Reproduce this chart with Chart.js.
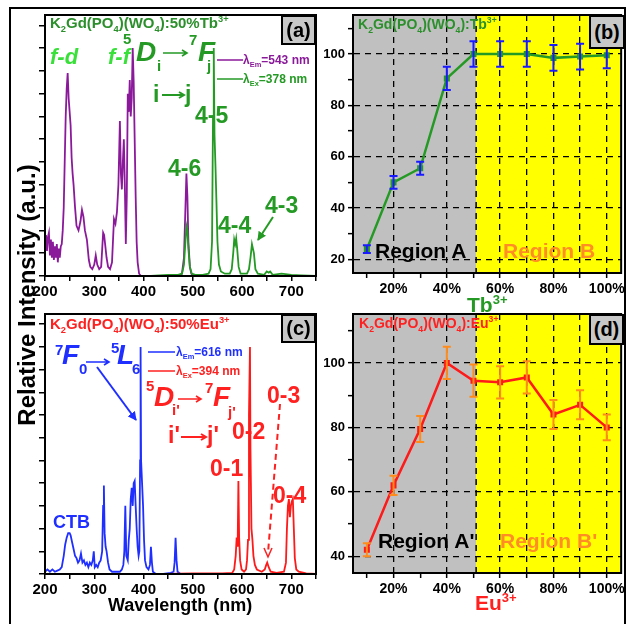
<!DOCTYPE html>
<html>
<head>
<meta charset="utf-8">
<title>K2Gd(PO4)(WO4): Tb / Eu</title>
<script src="https://cdn.jsdelivr.net/npm/chart.js@4.4.1/dist/chart.umd.min.js"></script>
<style>
  body { margin: 0; background: #fff; font-family: "Liberation Sans", Arial, sans-serif; }
  #page { position: relative; width: 628px; height: 624px; overflow: hidden; }
  .box { position: absolute; }
  .t { position: absolute; font-weight: bold; white-space: nowrap; line-height: 1; }
  .t sub, .t sup { font-size: 0.62em; line-height: 0; }
  .it { font-style: italic; }
  .tag { position: absolute; background: #c8c8c8; border: 2px solid #000; box-sizing: border-box;
         font-weight: bold; font-size: 20px; display: flex; align-items: center; justify-content: center; }
  #frame { position: absolute; left: 9px; top: 7px; width: 613px; height: 640px; border: 2px solid #000; }
</style>
</head>
<body>
<div id="page">
  <div id="frame"></div>
  <div class="box" style="left:0;top:0;width:320px;height:300px"><canvas id="chartA"></canvas></div>
  <div class="box" style="left:320px;top:0;width:308px;height:300px"><canvas id="chartB"></canvas></div>
  <div class="box" style="left:0;top:300px;width:320px;height:300px"><canvas id="chartC"></canvas></div>
  <div class="box" style="left:320px;top:300px;width:308px;height:300px"><canvas id="chartD"></canvas></div>

  <svg width="628" height="624" style="position:absolute;left:0;top:0;pointer-events:none">
    <defs>
      <marker id="ahG" markerWidth="9" markerHeight="9" refX="8" refY="4.5" orient="auto" markerUnits="userSpaceOnUse"><path d="M0,0 L9,4.5 L0,9 z" fill="#249a24"/></marker>
      <marker id="ahB" markerWidth="9" markerHeight="9" refX="8" refY="4.5" orient="auto" markerUnits="userSpaceOnUse"><path d="M0,0 L9,4.5 L0,9 z" fill="#1f2fff"/></marker>
    </defs>
    <!-- pointer arrows -->
    <line x1="273" y1="217" x2="258" y2="240" stroke="#249a24" stroke-width="2" marker-end="url(#ahG)"/>
    <line x1="97" y1="367" x2="136" y2="420" stroke="#1f2fff" stroke-width="2" marker-end="url(#ahB)"/>
    <line x1="280" y1="404" x2="268" y2="553" stroke="#ff2020" stroke-width="2" stroke-dasharray="6,4"/>
    <polyline points="264,548 268,557 272,548" fill="none" stroke="#ff2020" stroke-width="1.5"/>
    <!-- legend keys -->
    <line x1="217" y1="60" x2="243" y2="60" stroke="#8b1a9b" stroke-width="1.5"/>
    <line x1="217" y1="79" x2="243" y2="79" stroke="#249a24" stroke-width="1.5"/>
    <line x1="148" y1="352" x2="175" y2="352" stroke="#1f2fff" stroke-width="1.5"/>
    <line x1="148" y1="371" x2="175" y2="371" stroke="#ff2020" stroke-width="1.5"/>
    <!-- transition arrows inside the labels -->
    <g fill="none" stroke-width="1.6">
      <path d="M163,53 H187 M182,50 L187,53 L182,56" stroke="#249a24"/>
      <path d="M162,95 H184 M179,92 L184,95 L179,98" stroke="#249a24" stroke-width="2"/>
      <path d="M86,362 H109 M104,359 L109,362 L104,365" stroke="#1f2fff"/>
      <path d="M178,399 H201 M196,396 L201,399 L196,402" stroke="#ff2020"/>
      <path d="M181,437 H206 M201,434 L206,437 L201,440" stroke="#ff2020" stroke-width="2"/>
    </g>
  </svg>

  <!-- (a) -->
  <div class="t" style="left:50px;top:15px;font-size:15px;color:#2b8f2b">K<sub>2</sub>Gd(PO<sub>4</sub>)(WO<sub>4</sub>):50%Tb<sup>3+</sup></div>
  <div class="t it" style="left:50px;top:46px;font-size:22px;color:#3ae03a">f-d</div>
  <div class="t it" style="left:108px;top:46px;font-size:22px;color:#3ae03a">f-f</div>
  <div class="t" style="left:123px;top:31px;font-size:15px;color:#249a24">5</div>
  <div class="t it" style="left:136px;top:38px;font-size:28px;color:#249a24">D</div>
  <div class="t" style="left:157px;top:58px;font-size:15px;color:#249a24">i</div>
  <div class="t" style="left:189px;top:32px;font-size:15px;color:#249a24">7</div>
  <div class="t it" style="left:198px;top:38px;font-size:28px;color:#249a24">F</div>
  <div class="t" style="left:207px;top:58px;font-size:15px;color:#249a24">j</div>
  <div class="t" style="left:153px;top:83px;font-size:23px;color:#249a24">i</div>
  <div class="t" style="left:185px;top:83px;font-size:23px;color:#249a24">j</div>
  <div class="t" style="left:195px;top:104px;font-size:23px;color:#249a24">4-5</div>
  <div class="t" style="left:168px;top:157px;font-size:23px;color:#249a24">4-6</div>
  <div class="t" style="left:218px;top:214px;font-size:23px;color:#249a24">4-4</div>
  <div class="t" style="left:265px;top:194px;font-size:23px;color:#249a24">4-3</div>
  <div class="t" style="left:243px;top:54px;font-size:12px;color:#8b1a9b">λ<sub>Em</sub>=543 nm</div>
  <div class="t" style="left:243px;top:73px;font-size:12px;color:#249a24">λ<sub>Ex</sub>=378 nm</div>
  <div class="tag" style="left:281px;top:15px;width:35px;height:30px">(a)</div>

  <!-- (b) -->
  <div class="t" style="left:358px;top:17px;font-size:14px;color:#2b8f2b">K<sub>2</sub>Gd(PO<sub>4</sub>)(WO<sub>4</sub>):Tb<sup>3+</sup></div>
  <div class="t" style="left:375px;top:240px;font-size:21px;color:#000">Region A</div>
  <div class="t" style="left:503px;top:240px;font-size:21px;color:#ff8c24">Region B</div>
  <div class="tag" style="left:589px;top:15px;width:36px;height:34px">(b)</div>
  <div class="t" style="left:467px;top:294px;font-size:21px;color:#249a24">Tb<sup>3+</sup></div>

  <!-- (c) -->
  <div class="t" style="left:50px;top:316px;font-size:15px;color:#ff2020">K<sub>2</sub>Gd(PO<sub>4</sub>)(WO<sub>4</sub>):50%Eu<sup>3+</sup></div>
  <div class="t" style="left:55px;top:342px;font-size:15px;color:#1f2fff">7</div>
  <div class="t it" style="left:62px;top:341px;font-size:28px;color:#1f2fff">F</div>
  <div class="t" style="left:79px;top:361px;font-size:15px;color:#1f2fff">0</div>
  <div class="t" style="left:111px;top:340px;font-size:15px;color:#1f2fff">5</div>
  <div class="t it" style="left:117px;top:341px;font-size:28px;color:#1f2fff">L</div>
  <div class="t" style="left:132px;top:361px;font-size:15px;color:#1f2fff">6</div>
  <div class="t" style="left:53px;top:513px;font-size:18px;color:#1f2fff">CTB</div>
  <div class="t" style="left:146px;top:378px;font-size:15px;color:#ff2020">5</div>
  <div class="t it" style="left:154px;top:383px;font-size:28px;color:#ff2020">D</div>
  <div class="t" style="left:172px;top:402px;font-size:15px;color:#ff2020">i'</div>
  <div class="t" style="left:205px;top:380px;font-size:15px;color:#ff2020">7</div>
  <div class="t it" style="left:213px;top:383px;font-size:28px;color:#ff2020">F</div>
  <div class="t" style="left:228px;top:404px;font-size:15px;color:#ff2020">j'</div>
  <div class="t" style="left:168px;top:424px;font-size:23px;color:#ff2020">i'</div>
  <div class="t" style="left:207px;top:424px;font-size:23px;color:#ff2020">j'</div>
  <div class="t" style="left:232px;top:420px;font-size:23px;color:#ff2020">0-2</div>
  <div class="t" style="left:210px;top:457px;font-size:23px;color:#ff2020">0-1</div>
  <div class="t" style="left:267px;top:384px;font-size:23px;color:#ff2020">0-3</div>
  <div class="t" style="left:273px;top:484px;font-size:23px;color:#ff2020">0-4</div>
  <div class="t" style="left:176px;top:346px;font-size:12px;color:#1f2fff">λ<sub>Em</sub>=616 nm</div>
  <div class="t" style="left:176px;top:365px;font-size:12px;color:#ff2020">λ<sub>Ex</sub>=394 nm</div>
  <div class="tag" style="left:281px;top:314px;width:35px;height:29px">(c)</div>

  <!-- (d) -->
  <div class="t" style="left:359px;top:316px;font-size:14px;color:#ff2020">K<sub>2</sub>Gd(PO<sub>4</sub>)(WO<sub>4</sub>):Eu<sup>3+</sup></div>
  <div class="t" style="left:378px;top:530px;font-size:21px;color:#000">Region A'</div>
  <div class="t" style="left:500px;top:530px;font-size:21px;color:#ff8c24">Region B'</div>
  <div class="tag" style="left:589px;top:314px;width:35px;height:31px">(d)</div>
  <div class="t" style="left:475px;top:592px;font-size:21px;color:#ff2020">Eu<sup>3+</sup></div>

  <div class="t" style="left:108px;top:596px;font-size:18px;color:#000">Wavelength (nm)</div>
  <div class="t" style="left:27px;top:295px;font-size:24px;color:#000;transform:translate(-50%,-50%) rotate(-90deg)">Relative Intensity (a.u.)</div>
</div>

<script>
// ---- data ----

// (a) Tb3+ excitation (monitored at 543 nm)
const tbExWl = [200,202,204,206,208,210,212,214,216,218,220,222,224,226,228,230,232,234,236,238,240,242,244,246,248,250,252,254,256,258,261,264,268,272,275,278,281,285,289,292,296,300,303,306,310,314,318,320,322,325,328,332,336,340,343,346,349,352,354,356,358,360,362,364,366,368,370,372,374,376,378,380,382,384,386,388,391,395,400,420,450,470,478,482,485,487,489,491,494,497,500,505];
const tbExI  = [0.15,0.18,0.11,0.17,0.19,0.09,0.16,0.08,0.15,0.07,0.13,0.08,0.14,0.06,0.12,0.08,0.13,0.14,0.20,0.30,0.50,0.70,0.82,0.89,0.78,0.72,0.66,0.52,0.45,0.40,0.30,0.22,0.20,0.24,0.29,0.26,0.20,0.16,0.07,0.04,0.03,0.05,0.09,0.05,0.03,0.04,0.19,0.18,0.14,0.08,0.04,0.03,0.06,0.25,0.23,0.28,0.40,0.68,0.45,0.38,0.50,0.60,0.40,0.14,0.35,0.80,0.72,0.86,0.70,0.78,1.00,0.85,0.60,0.35,0.15,0.06,0.01,0,0,0,0,0,0.01,0.08,0.30,0.45,0.35,0.15,0.04,0.01,0,0];

// (a) Tb3+ emission (excited at 378 nm)
const tbEmWl = [415,450,470,478,482,485,487,489,491,494,498,505,520,532,536,539,541,542.5,544,546,548,550,553,557,565,575,579,582,584,586,588,590,593,597,610,614,617,620,622,624,627,632,645,650,654,657,662,680,700,720,750];
const tbEmI  = [0,0.005,0.005,0.01,0.05,0.15,0.22,0.20,0.12,0.04,0.01,0.005,0.005,0.01,0.03,0.15,0.70,1.00,0.62,0.48,0.32,0.15,0.05,0.02,0.01,0.01,0.03,0.10,0.16,0.14,0.165,0.12,0.04,0.01,0.01,0.03,0.08,0.14,0.12,0.10,0.03,0.01,0.005,0.02,0.015,0.02,0.005,0.01,0.005,0.003,0];

// (c) Eu3+ excitation (monitored at 616 nm)
const euExWl = [200,205,210,215,220,225,230,234,238,241,244,247,250,252,255,258,261,264,267,270,273,276,279,282,285,288,291,294,297,299,301,304,307,310,313,316,318,319.5,321,323,325,328,331,336,345,352,356,359,361,363,365,368,370,372,374,376,378,380,382,384,386,388,390,391.5,393,394,395,397,399,401,403,406,410,413,415,417,419,425,440,455,461,463,465,467,469,475,480];
const euExI  = [0.01,0.02,0.01,0.02,0.01,0.015,0.02,0.03,0.08,0.13,0.16,0.18,0.18,0.17,0.14,0.11,0.08,0.07,0.05,0.06,0.09,0.05,0.06,0.04,0.05,0.03,0.05,0.04,0.06,0.10,0.03,0.04,0.03,0.05,0.06,0.10,0.30,0.39,0.18,0.12,0.10,0.05,0.02,0.01,0.01,0.01,0.02,0.04,0.10,0.30,0.08,0.06,0.15,0.20,0.33,0.38,0.30,0.40,0.41,0.30,0.20,0.12,0.08,0.10,0.50,1.00,0.50,0.40,0.30,0.15,0.06,0.03,0.02,0.04,0.12,0.05,0.01,0,0,0.005,0.01,0.05,0.16,0.06,0.01,0,0];

// (c) Eu3+ emission (excited at 394 nm)
const euEmWl = [450,470,500,530,560,580,584,587,589,591,592.5,594,596,599,604,608,610,612,614,616,617,619,621,623,626,630,640,646,649,651,654,658,670,685,689,691,693,695,697,699,701,703,705,707,710,715,730,750];
const euEmI  = [0,0.002,0.003,0.003,0.003,0.005,0.02,0.08,0.16,0.12,0.41,0.16,0.06,0.02,0.01,0.02,0.06,0.15,0.70,1.00,0.55,0.20,0.15,0.08,0.04,0.02,0.01,0.02,0.04,0.05,0.03,0.01,0.005,0.01,0.05,0.20,0.30,0.33,0.25,0.30,0.32,0.33,0.20,0.07,0.02,0.01,0.003,0];

// (b), (d) doping concentration series
const concentration = [10,20,30,40,50,60,70,80,90,100];
const tbIntensity = [24,50,55.5,90.5,100,100,100,98.5,99,99.5];
const tbError     = [1.5,2.5,2.5,4.5,5,5,5,5,5,5];
const euIntensity = [42,62,79.5,100,94.5,94,95.5,84,87,80];
const euError     = [2,3,4,5,5,5,5,4.5,4.5,4];

// vertical dashed grid positions in (b)/(d)
const concGrid = [20,40,60,70,80,90,100];
const regionSplit = 51;

const PURPLE = '#8b1a9b', GREEN = '#249a24', BLUE = '#1f2fff', RED = '#ff1a1a', ORANGE = '#ff8c1a';

Chart.defaults.font.family = '"Liberation Sans", Arial, sans-serif';
Chart.defaults.font.weight = 'bold';
Chart.defaults.color = '#000';
Chart.defaults.animation = false;
Chart.defaults.plugins.legend.display = false;
Chart.defaults.plugins.tooltip.enabled = false;

const pairs = (xs, ys) => xs.map((x, i) => ({x: x, y: ys[i]}));

// backgrounds, region boundary, error bars, box frame
const framePlugin = {
  id: 'frame',
  beforeDraw(chart, args, opts) {
    if (opts.split == null) return;
    const a = chart.chartArea, ctx = chart.ctx;
    const px = chart.scales.x.getPixelForValue(opts.split);
    ctx.save();
    ctx.fillStyle = '#c0c0c0';
    ctx.fillRect(a.left, a.top, px - a.left, a.bottom - a.top);
    ctx.fillStyle = '#ffff00';
    ctx.fillRect(px, a.top, a.right - px, a.bottom - a.top);
    ctx.restore();
  },
  beforeDatasetsDraw(chart, args, opts) {
    if (opts.split == null) return;
    const a = chart.chartArea, ctx = chart.ctx;
    const px = chart.scales.x.getPixelForValue(opts.split);
    ctx.save();
    ctx.strokeStyle = '#000';
    ctx.lineWidth = 1.5;
    ctx.setLineDash([6, 5]);
    ctx.beginPath();
    ctx.moveTo(px, a.top);
    ctx.lineTo(px, a.bottom);
    ctx.stroke();
    ctx.restore();
  },
  afterDatasetsDraw(chart) {
    const ctx = chart.ctx, ys = chart.scales.y;
    chart.data.datasets.forEach((ds, i) => {
      if (!ds.errors) return;
      const meta = chart.getDatasetMeta(i);
      ctx.save();
      ctx.strokeStyle = ds.errorColor;
      ctx.lineWidth = 2;
      meta.data.forEach((pt, j) => {
        const v = ds.data[j].y, e = ds.errors[j];
        const top = ys.getPixelForValue(v + e), bot = ys.getPixelForValue(v - e);
        ctx.beginPath();
        ctx.moveTo(pt.x, top); ctx.lineTo(pt.x, bot);
        ctx.moveTo(pt.x - 4, top); ctx.lineTo(pt.x + 4, top);
        ctx.moveTo(pt.x - 4, bot); ctx.lineTo(pt.x + 4, bot);
        ctx.stroke();
      });
      ctx.restore();
    });
  },
  afterDraw(chart) {
    const a = chart.chartArea, ctx = chart.ctx;
    ctx.save();
    ctx.strokeStyle = '#000';
    ctx.lineWidth = 2;
    ctx.strokeRect(a.left, a.top, a.right - a.left, a.bottom - a.top);
    ctx.restore();
  }
};

function spectrumChart(id, padTop, axisHeight, datasets) {
  return new Chart(document.getElementById(id), {
    type: 'line',
    data: { datasets: datasets },
    options: {
      responsive: true,
      maintainAspectRatio: false,
      layout: { padding: { top: padTop, right: 4, left: 0, bottom: 0 } },
      elements: { point: { radius: 0 }, line: { borderWidth: 1.8, tension: 0 } },
      scales: {
        x: {
          type: 'linear', min: 200, max: 750,
          afterFit: s => { s.height = axisHeight; },
          ticks: { stepSize: 50, autoSkip: false, maxRotation: 0, padding: 2, font: { size: 15 },
                   callback: v => (v % 100 === 0 && v < 750) ? v : '' },
          grid: { drawOnChartArea: false, tickLength: 5, color: '#000', lineWidth: 1.5 },
          border: { color: '#000', width: 2 }
        },
        y: {
          min: 0, max: 1.145,
          afterFit: s => { s.width = 45; },
          ticks: { display: false, stepSize: 0.1, includeBounds: false },
          grid: { drawOnChartArea: false, tickLength: 6, color: '#000', lineWidth: 1.5 },
          border: { color: '#000', width: 2 }
        }
      },
      plugins: { frame: {} }
    },
    plugins: [framePlugin]
  });
}

function dopingChart(id, padTop, axisHeight, yMin, yMax, yLow, vals, errs, lineColor, errColor) {
  return new Chart(document.getElementById(id), {
    type: 'line',
    data: {
      datasets: [{
        data: pairs(concentration, vals),
        errors: errs,
        errorColor: errColor,
        borderColor: lineColor,
        backgroundColor: lineColor,
        borderWidth: 2.5,
        pointStyle: 'rect',
        pointRadius: 2.5,
        tension: 0
      }]
    },
    options: {
      responsive: true,
      maintainAspectRatio: false,
      layout: { padding: { top: padTop, right: 3, left: 0, bottom: 0 } },
      scales: {
        x: {
          type: 'linear', min: 4.8, max: 105.4,
          afterFit: s => { s.height = axisHeight; },
          ticks: { stepSize: 10, includeBounds: false, autoSkip: false, maxRotation: 0, padding: 3, font: { size: 14 },
                   callback: v => (v % 20 === 0) ? v + '%' : '' },
          grid: { color: c => concGrid.includes(c.tick.value) ? '#000' : 'rgba(0,0,0,0)',
                  tickColor: '#000', tickLength: 5, lineWidth: 1.3, tickWidth: 1.5, tickBorderDash: [] },
          border: { color: '#000', width: 2, dash: [6, 5] }
        },
        y: {
          min: yMin, max: yMax,
          afterFit: s => { s.width = 33; },
          ticks: { stepSize: 10, includeBounds: false, padding: 3, font: { size: 13 },
                   callback: v => (v % 20 === 0 && v >= yLow && v <= 100) ? v : '' },
          grid: { color: c => (c.tick.value % 20 === 0 && c.tick.value <= 100) ? '#000' : 'rgba(0,0,0,0)',
                  tickColor: '#000', tickLength: 5, lineWidth: 1.3, tickWidth: 1.5, tickBorderDash: [] },
          border: { color: '#000', width: 2, dash: [6, 5] }
        }
      },
      plugins: { frame: { split: regionSplit } }
    },
    plugins: [framePlugin]
  });
}

spectrumChart('chartA', 15, 24, [
  { data: pairs(tbEmWl, tbEmI), borderColor: GREEN, order: 0 },
  { data: pairs(tbExWl, tbExI), borderColor: PURPLE, order: 1 }
]);

spectrumChart('chartC', 14, 26, [
  { data: pairs(euEmWl, euEmI), borderColor: RED, order: 0 },
  { data: pairs(euExWl, euExI), borderColor: BLUE, order: 1 }
]);

dopingChart('chartB', 15, 27, 14.7, 115.2, 20, tbIntensity, tbError, GREEN, '#1a1aff');
dopingChart('chartD', 14, 27, 34.8, 115.2, 40, euIntensity, euError, RED, ORANGE);
</script>
</body>
</html>
